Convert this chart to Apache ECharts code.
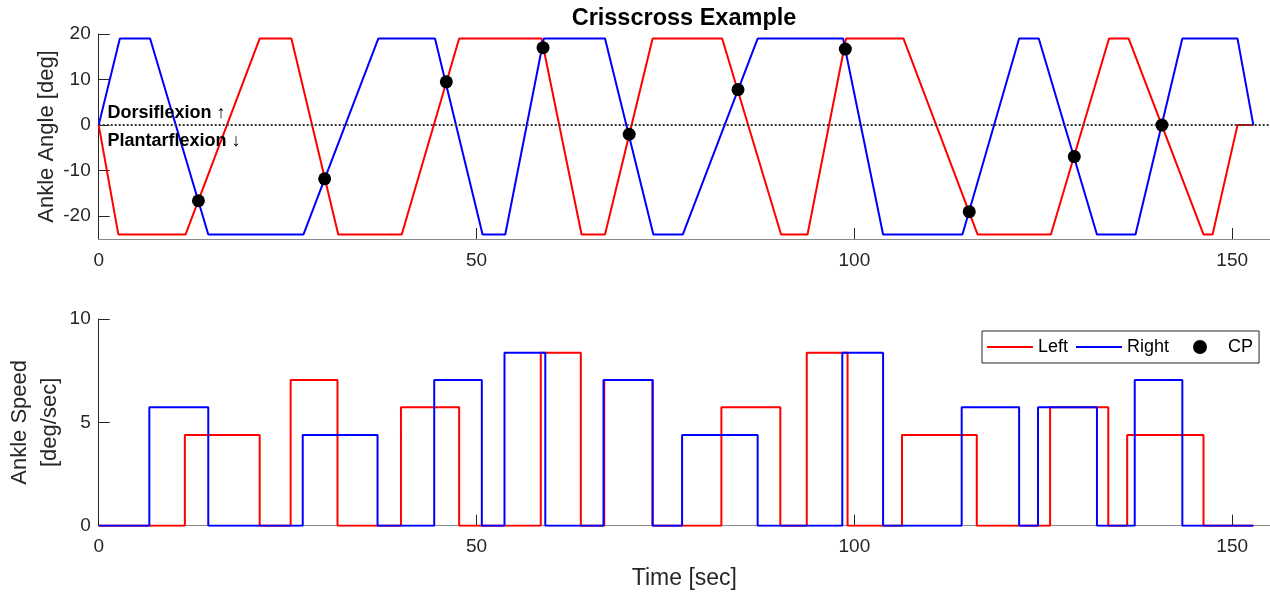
<!DOCTYPE html>
<html><head><meta charset="utf-8">
<script src="https://cdn.jsdelivr.net/npm/echarts@6/dist/echarts.min.js"></script>
<style>html,body{margin:0;padding:0;background:#fff}#c{width:1270px;height:592px}</style>
</head><body><div id="c"></div>
<script>
// Top panel: ankle angle breakpoints
const leftAngleTime  = [0, 2.6, 11.5, 21.3, 25.5, 31.7, 40.1, 47.7, 58.6, 63.9, 67.0, 73.3, 82.5, 90.3, 93.8, 98.9, 106.5, 116.3, 126.0, 133.7, 136.3, 146.2, 147.4, 150.7, 152.8];
const leftAngleValue = [0, -24, -24, 19, 19, -24, -24, 19, 19, -24, -24, 19, 19, -24, -24, 19, 19, -24, -24, 19, 19, -24, -24, 0, 0];
const rightAngleTime  = [0, 2.8, 6.8, 14.5, 27.1, 37.0, 44.5, 50.8, 53.8, 58.9, 67.0, 73.4, 77.3, 87.2, 98.5, 103.8, 114.3, 121.8, 124.4, 132.1, 137.2, 143.4, 150.7, 152.8];
const rightAngleValue = [0, 19, 19, -24, -24, 19, 19, -24, -24, 19, 19, -24, -24, 19, 19, -24, -24, 19, 19, -24, -24, 19, 19, 0];
// Crossing points
const cpTime  = [13.2, 29.9, 46.0, 58.8, 70.2, 84.6, 98.8, 115.2, 129.1, 140.7];
const cpValue = [-16.6, -11.8, 9.5, 17.0, -2.0, 7.8, 16.7, -19.0, -6.9, 0];
// Bottom panel: ankle speed (step, value holds until next time)
const leftSpeedTime  = [0, 11.4, 21.3, 25.4, 31.6, 40.0, 47.7, 58.5, 63.8, 66.9, 73.3, 82.4, 90.2, 93.7, 99.1, 106.3, 116.2, 125.9, 133.6, 136.1, 146.2, 152.8];
const leftSpeedValue = [0, 4.39, 0, 7.05, 0, 5.73, 0, 8.37, 0, 7.05, 0, 5.73, 0, 8.37, 0, 4.39, 0, 5.73, 0, 4.39, 0, 0];
const rightSpeedTime  = [0, 6.7, 14.5, 27.0, 36.9, 44.4, 50.7, 53.7, 59.1, 66.8, 73.3, 77.2, 87.2, 98.4, 103.8, 114.2, 121.8, 124.3, 132.1, 137.1, 143.4, 152.8];
const rightSpeedValue = [0, 5.73, 0, 4.39, 0, 7.05, 0, 8.37, 0, 7.05, 0, 4.39, 0, 8.37, 0, 5.73, 0, 5.73, 0, 7.05, 0, 0];
// Ticks and labels
const xTicks = [0, 50, 100, 150];
const angleTicks = [-20, -10, 0, 10, 20];
const annotText = ['Dorsiflexion \u2191', 'Plantarflexion \u2193'];
const annotTime = [1.15, 1.15];
const annotValue = [2.6, -3.5];

const zip = (a, b) => a.map((v, i) => [v, b[i]]);
const FONT = "'Liberation Sans', Arial, Helvetica, sans-serif";
const TXT = '#262626';

function xAxisCfg(gridIndex, withName) {
  const o = {
    type: 'value', gridIndex, min: 0, max: 155,
    axisLine: { show: true, onZero: false, lineStyle: { color: '#8a8a8a', width: 1 } },
    axisTick: { show: true, inside: true, length: 11, customValues: xTicks, lineStyle: { color: TXT } },
    axisLabel: { customValues: xTicks, color: TXT, fontSize: 19, fontFamily: FONT, margin: 12 },
    splitLine: { show: false }
  };
  if (withName) {
    o.name = 'Time [sec]'; o.nameLocation = 'middle'; o.nameGap = 41; o.nameMoveOverlap = false;
    o.nameTextStyle = { color: TXT, fontSize: 23, fontFamily: FONT };
  }
  return o;
}

const legendText = { fontSize: 18, color: '#000', fontFamily: FONT };

const chart = echarts.init(document.getElementById('c'));
chart.setOption({
  animation: false,
  backgroundColor: '#fff',
  title: {
    text: 'Crisscross Example', left: 679, top: 2, textAlign: 'center',
    textStyle: { fontSize: 23.5, fontWeight: 'bold', color: '#000', fontFamily: FONT }
  },
  legend: [
    {
      left: 982, top: 331, orient: 'horizontal', z: 4,
      padding: [7, 90, 7, 4], itemGap: 7, itemWidth: 46, itemHeight: 14,
      backgroundColor: '#fff', borderColor: TXT, borderWidth: 1,
      textStyle: legendText,
      data: [
        { name: 'Left', itemStyle: { opacity: 0 } },
        { name: 'Right', itemStyle: { opacity: 0 } }
      ]
    },
    {
      left: 1193, top: 331, orient: 'horizontal', z: 5,
      padding: [7, 0, 7, 0], itemWidth: 46, itemHeight: 14,
      textStyle: legendText,
      data: ['CP']
    }
  ],
  grid: [
    { left: 98.7, right: 0, top: 34, height: 205, outerBoundsMode: 'none', containLabel: false },
    { left: 98.7, right: 0, top: 319, height: 206.7, outerBoundsMode: 'none', containLabel: false }
  ],
  xAxis: [xAxisCfg(0, false), xAxisCfg(1, true)],
  yAxis: [
    {
      type: 'value', gridIndex: 0, min: -25, max: 20,
      axisLine: { show: true, onZero: false, lineStyle: { color: TXT } },
      axisTick: { show: true, inside: true, length: 11, customValues: angleTicks, lineStyle: { color: TXT } },
      axisLabel: { customValues: angleTicks, color: TXT, fontSize: 19, fontFamily: FONT, margin: 8 },
      splitLine: { show: false },
      name: 'Ankle Angle [deg]', nameLocation: 'middle', nameGap: 41, nameMoveOverlap: false,
      nameTextStyle: { color: TXT, fontSize: 22, fontFamily: FONT }
    },
    {
      type: 'value', gridIndex: 1, min: 0, max: 10, interval: 5,
      axisLine: { show: true, onZero: false, lineStyle: { color: TXT } },
      axisTick: { show: true, inside: true, length: 11, lineStyle: { color: TXT } },
      axisLabel: { color: TXT, fontSize: 19, fontFamily: FONT, margin: 8 },
      splitLine: { show: false },
      name: 'Ankle Speed\n[deg/sec]', nameLocation: 'middle', nameGap: 34, nameMoveOverlap: false,
      nameTextStyle: { color: TXT, fontSize: 22, fontFamily: FONT, lineHeight: 30 }
    }
  ],
  series: [
    {
      name: 'Left', type: 'line', xAxisIndex: 0, yAxisIndex: 0,
      data: zip(leftAngleTime, leftAngleValue), showSymbol: false, symbol: 'none',
      lineStyle: { color: '#ff0000', width: 2 }, itemStyle: { color: '#ff0000' }, z: 2,
      markLine: {
        silent: true, symbol: 'none', label: { show: false },
        lineStyle: { color: '#333333', type: 'dotted', width: 2 },
        data: [{ yAxis: 0 }]
      }
    },
    {
      name: 'Right', type: 'line', xAxisIndex: 0, yAxisIndex: 0,
      data: zip(rightAngleTime, rightAngleValue), showSymbol: false, symbol: 'none',
      lineStyle: { color: '#0000ff', width: 2 }, itemStyle: { color: '#0000ff' }, z: 3
    },
    {
      name: 'CP', type: 'scatter', xAxisIndex: 0, yAxisIndex: 0,
      data: zip(cpTime, cpValue), symbol: 'circle', symbolSize: 13,
      itemStyle: { color: '#000', opacity: 1 }, z: 5
    },
    {
      name: 'annot', type: 'scatter', xAxisIndex: 0, yAxisIndex: 0,
      data: annotText.map((t, i) => ({ value: [annotTime[i], annotValue[i]], name: t })),
      symbolSize: 0, silent: true, z: 6, itemStyle: { opacity: 1 },
      label: {
        show: true, position: 'right', distance: 0, formatter: p => p.name,
        fontSize: 18, fontWeight: 'bold', color: '#000', opacity: 1, fontFamily: FONT
      }
    },
    {
      name: 'Left', type: 'line', xAxisIndex: 1, yAxisIndex: 1, step: 'end',
      data: zip(leftSpeedTime, leftSpeedValue), showSymbol: false, symbol: 'none',
      lineStyle: { color: '#ff0000', width: 2 }, itemStyle: { color: '#ff0000' }, z: 2
    },
    {
      name: 'Right', type: 'line', xAxisIndex: 1, yAxisIndex: 1, step: 'end',
      data: zip(rightSpeedTime, rightSpeedValue), showSymbol: false, symbol: 'none',
      lineStyle: { color: '#0000ff', width: 2 }, itemStyle: { color: '#0000ff' }, z: 3
    }
  ]
});
</script>
</body></html>
